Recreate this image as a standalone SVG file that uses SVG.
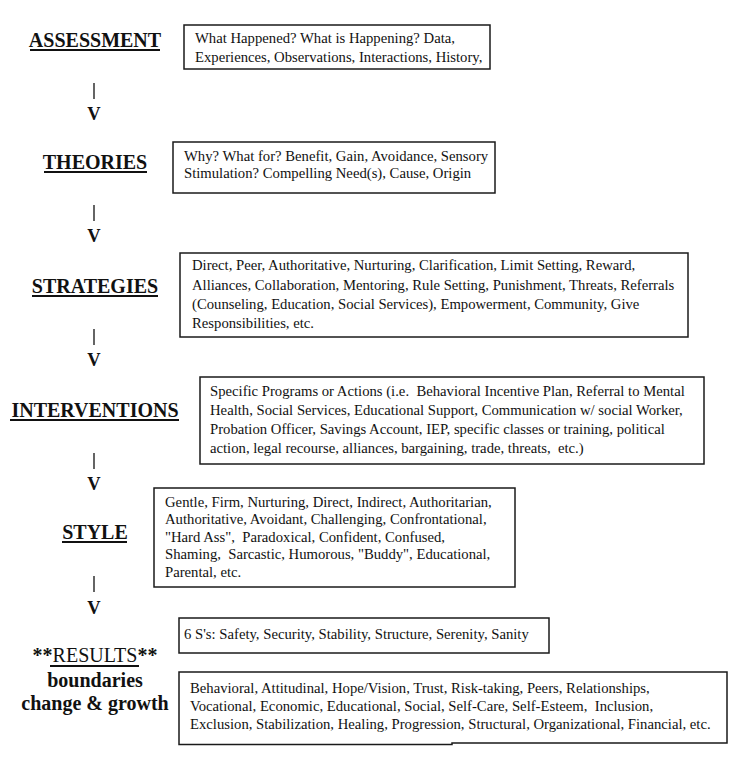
<svg xmlns="http://www.w3.org/2000/svg" width="742" height="764" viewBox="0 0 742 764" font-family="Liberation Serif, DejaVu Serif, serif">
<style>
.bg{fill:#fff}
.box{fill:#fff;stroke:#1a1a1a;stroke-width:1.5}
.t{font-size:14.7px;fill:#111;white-space:pre}
.h{font-size:20px;font-weight:bold;fill:#111;text-anchor:middle;white-space:pre}
.ul{stroke:#111;stroke-width:2}
.bar{stroke:#111;stroke-width:1.3}
.v{font-size:18.5px;font-weight:bold;fill:#111;text-anchor:middle}
</style>
<rect class="bg" x="0" y="0" width="742" height="764"/>

<g id="assessment">
<text class="h" x="95" y="47">ASSESSMENT</text>
<line class="ul" x1="30" y1="50" x2="160" y2="50"/>
<rect class="box" x="184" y="25" width="306" height="44"/>
<text class="t" x="195" y="43">What Happened? What is Happening? Data,</text>
<text class="t" x="195" y="62">Experiences, Observations, Interactions, History,</text>
</g>

<g id="theories">
<text class="h" x="95" y="169">THEORIES</text>
<line class="ul" x1="44" y1="172" x2="147" y2="172"/>
<rect class="box" x="173" y="142" width="322" height="51"/>
<text class="t" x="184" y="161">Why? What for? Benefit, Gain, Avoidance, Sensory</text>
<text class="t" x="184" y="177.5">Stimulation? Compelling Need(s), Cause, Origin</text>
</g>

<g id="strategies">
<text class="h" x="95" y="293">STRATEGIES</text>
<line class="ul" x1="32" y1="296" x2="158" y2="296"/>
<rect class="box" x="180" y="253" width="508" height="84"/>
<text class="t" x="192" y="270">Direct, Peer, Authoritative, Nurturing, Clarification, Limit Setting, Reward,</text>
<text class="t" x="192" y="289.5">Alliances, Collaboration, Mentoring, Rule Setting, Punishment, Threats, Referrals</text>
<text class="t" x="192" y="309">(Counseling, Education, Social Services), Empowerment, Community, Give</text>
<text class="t" x="192" y="328">Responsibilities, etc.</text>
</g>

<g id="interventions">
<text class="h" x="95" y="417">INTERVENTIONS</text>
<line class="ul" x1="10" y1="420" x2="179" y2="420"/>
<rect class="box" x="200" y="377" width="504" height="87"/>
<text class="t" x="210" y="396">Specific Programs or Actions (i.e.  Behavioral Incentive Plan, Referral to Mental</text>
<text class="t" x="210" y="415">Health, Social Services, Educational Support, Communication w/ social Worker,</text>
<text class="t" x="210" y="434">Probation Officer, Savings Account, IEP, specific classes or training, political</text>
<text class="t" x="210" y="453">action, legal recourse, alliances, bargaining, trade, threats,  etc.)</text>
</g>

<g id="style">
<text class="h" x="95" y="539">STYLE</text>
<line class="ul" x1="62" y1="542" x2="127" y2="542"/>
<rect class="box" x="154" y="488" width="361" height="99"/>
<text class="t" x="165" y="506.5">Gentle, Firm, Nurturing, Direct, Indirect, Authoritarian,</text>
<text class="t" x="165" y="524">Authoritative, Avoidant, Challenging, Confrontational,</text>
<text class="t" x="165" y="541.5">"Hard Ass",  Paradoxical, Confident, Confused,</text>
<text class="t" x="165" y="559">Shaming,  Sarcastic, Humorous, "Buddy", Educational,</text>
<text class="t" x="165" y="576.5">Parental, etc.</text>
</g>

<g id="results">
<text class="h" x="95" y="662">**<tspan font-weight="normal">RESULTS</tspan>**</text>
<line class="ul" x1="50" y1="666" x2="139" y2="666"/>
<text class="h" x="95" y="687">boundaries</text>
<text class="h" x="95" y="710">change &amp; growth</text>
</g>

<g id="safety">
<rect class="box" x="179" y="618" width="370" height="35"/>
<text class="t" x="184" y="638.5">6 S's: Safety, Security, Stability, Structure, Serenity, Sanity</text>
</g>

<g id="outcomes">
<path class="box" d="M179,672 H727 V743 H452 V744.5 H179 Z"/>
<text class="t" x="190" y="692.5">Behavioral, Attitudinal, Hope/Vision, Trust, Risk-taking, Peers, Relationships,</text>
<text class="t" x="190" y="710.5">Vocational, Economic, Educational, Social, Self-Care, Self-Esteem,  Inclusion,</text>
<text class="t" x="190" y="728.5">Exclusion, Stabilization, Healing, Progression, Structural, Organizational, Financial, etc.</text>
</g>

<g id="connectors">
<line class="bar" x1="94" y1="83" x2="94" y2="99"/>
<text class="v" x="94" y="120">V</text>
<line class="bar" x1="94" y1="205" x2="94" y2="221"/>
<text class="v" x="94" y="242">V</text>
<line class="bar" x1="94" y1="329" x2="94" y2="345"/>
<text class="v" x="94" y="366">V</text>
<line class="bar" x1="94" y1="453" x2="94" y2="469"/>
<text class="v" x="94" y="490">V</text>
<line class="bar" x1="94" y1="576" x2="94" y2="592"/>
<text class="v" x="94" y="614">V</text>
</g>
</svg>
